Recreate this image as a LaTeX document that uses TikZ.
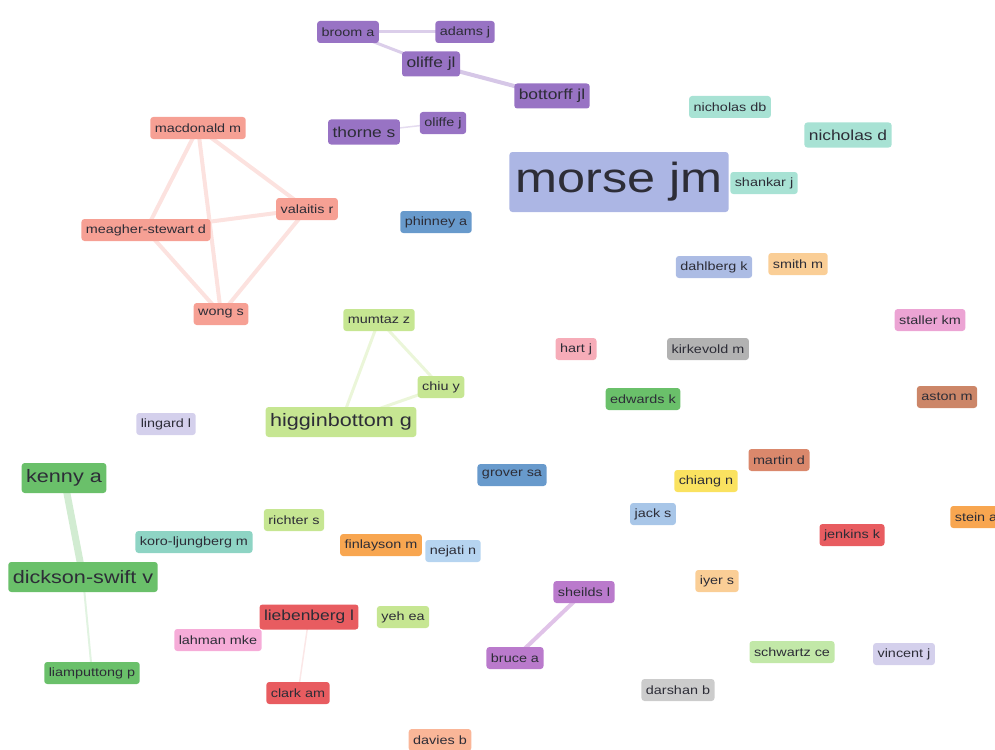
\documentclass[tikz,border=0pt]{standalone}
\usepackage{fontspec}
\setmainfont{Liberation Sans}[FakeStretch=1.2]
\usetikzlibrary{backgrounds}

% cluster colours
\definecolor{txt}{RGB}{45,45,55}
\definecolor{cpurple}{RGB}{152,115,196}
\definecolor{cmagenta}{RGB}{186,122,204}
\definecolor{csalmon}{RGB}{246,160,148}
\definecolor{cblue}{RGB}{104,154,204}
\definecolor{cmorse}{RGB}{172,182,228}
\definecolor{cteal}{RGB}{168,226,212}
\definecolor{cteald}{RGB}{142,212,196}
\definecolor{cdahl}{RGB}{172,188,228}
\definecolor{corangel}{RGB}{250,206,150}
\definecolor{cstaller}{RGB}{236,164,212}
\definecolor{chart}{RGB}{246,172,184}
\definecolor{cgray}{RGB}{178,178,178}
\definecolor{cgrayl}{RGB}{204,204,204}
\definecolor{cgreen}{RGB}{106,192,106}
\definecolor{cbrown}{RGB}{204,134,104}
\definecolor{cmartin}{RGB}{218,136,108}
\definecolor{cyellow}{RGB}{250,226,96}
\definecolor{cblueL}{RGB}{168,198,232}
\definecolor{cred}{RGB}{232,92,96}
\definecolor{corange}{RGB}{248,166,80}
\definecolor{clime}{RGB}{198,230,146}
\definecolor{climel}{RGB}{194,232,168}
\definecolor{clav}{RGB}{212,208,236}
\definecolor{cpeach}{RGB}{250,182,152}
\definecolor{cpink}{RGB}{246,172,216}
\definecolor{cnejati}{RGB}{182,212,240}

\begin{document}
\begin{tikzpicture}[x=1pt,y=-1pt,
    tag/.style={rounded corners=3pt, inner xsep=4.5pt, inner ysep=0pt, text=txt,
      font=\fontsize{12}{14}\selectfont, minimum height=22pt},
    tagm/.style={tag, font=\fontsize{14.5}{17}\selectfont, minimum height=25pt},
    tagl/.style={tag, font=\fontsize{18}{21}\selectfont, minimum height=30pt},
    tagxl/.style={tag, font=\fontsize{42}{48}\selectfont, minimum height=60pt, inner xsep=6pt},
    link/.style={line cap=round}]
\useasboundingbox (0,0) rectangle (995,749);
\clip (0,0) rectangle (995,749);

% purple cluster
\node[tag, fill=cpurple] (broom) at (348,32) {broom a};
\node[tag, fill=cpurple] (adams) at (465,32) {adams j};
\node[tagm, fill=cpurple] (oliffejl) at (431,64) {oliffe jl};
\node[tagm, fill=cpurple] (bottorff) at (552,96) {bottorff jl};
\node[tagm, fill=cpurple] (thorne) at (364,132) {thorne s};
\node[tag, fill=cpurple] (oliffej) at (443,123) {oliffe j};

% salmon cluster
\node[tag, fill=csalmon] (macdonald) at (198,128) {macdonald m};
\node[tag, fill=csalmon] (valaitis) at (307,209) {valaitis r};
\node[tag, fill=csalmon] (meagher) at (146,230) {meagher-stewart d};
\node[tag, fill=csalmon] (wong) at (221,314) {wong s};

% top right
\node[tag, fill=cblue] (phinney) at (436,222) {phinney a};
\node[tagxl, fill=cmorse] (morse) at (619,182) {morse jm};
\node[tag, fill=cteal] (nicholasdb) at (730,107) {nicholas db};
\node[tagm, fill=cteal] (nicholasd) at (848,135) {nicholas d};
\node[tag, fill=cteal] (shankar) at (764,183) {shankar j};
\node[tag, fill=cdahl] (dahlberg) at (714,267) {dahlberg k};
\node[tag, fill=corangel] (smith) at (798,264) {smith m};
\node[tag, fill=cstaller] (staller) at (930,320) {staller km};
\node[tag, fill=chart] (hart) at (576,349) {hart j};
\node[tag, fill=cgray] (kirkevold) at (708,349) {kirkevold m};
\node[tag, fill=cgreen] (edwards) at (643,399) {edwards k};
\node[tag, fill=cbrown] (aston) at (947,397) {aston m};

% middle
\node[tag, fill=clime] (mumtaz) at (379,320) {mumtaz z};
\node[tag, fill=clime] (chiu) at (441,387) {chiu y};
\node[tagl, fill=clime] (higginbottom) at (341,422) {higginbottom g};
\node[tag, fill=clav] (lingard) at (166,424) {lingard l};
\node[tag, fill=cblue] (grover) at (512,475) {grover sa};
\node[tag, fill=cmartin] (martin) at (779,460) {martin d};
\node[tag, fill=cyellow] (chiang) at (706,481) {chiang n};
\node[tag, fill=cblueL] (jack) at (653,514) {jack s};
\node[tag, fill=cred] (jenkins) at (852,535) {jenkins k};
\node[tag, fill=corange] (stein) at (976,517) {stein a};

% green cluster
\node[tagl, fill=cgreen] (kenny) at (64,478) {kenny a};
\node[tagl, fill=cgreen] (dickson) at (83,577) {dickson-swift v};
\node[tag, fill=cgreen] (liamputtong) at (92,673) {liamputtong p};

% bottom
\node[tag, fill=cteald] (koro) at (194,542) {koro-ljungberg m};
\node[tag, fill=clime] (richter) at (294,520) {richter s};
\node[tag, fill=corange] (finlayson) at (381,545) {finlayson m};
\node[tag, fill=cnejati] (nejati) at (453,551) {nejati n};
\node[tagm, fill=cred] (liebenberg) at (309,617) {liebenberg l};
\node[tag, fill=clime] (yeh) at (403,617) {yeh ea};
\node[tag, fill=cpink] (lahman) at (218,640) {lahman mke};
\node[tag, fill=cred] (clark) at (298,693) {clark am};
\node[tag, fill=cpeach] (davies) at (440,740) {davies b};
\node[tag, fill=corangel] (iyer) at (717,581) {iyer s};
\node[tag, fill=cmagenta] (sheilds) at (584,592) {sheilds l};
\node[tag, fill=cmagenta] (bruce) at (515,658) {bruce a};
\node[tag, fill=climel] (schwartz) at (792,652) {schwartz ce};
\node[tag, fill=clav] (vincent) at (904,654) {vincent j};
\node[tag, fill=cgrayl] (darshan) at (678,690) {darshan b};

% links
\begin{scope}[on background layer]
  \draw[link, cpurple!35, line width=3pt] (broom.center) -- (adams.center);
  \draw[link, cpurple!35, line width=3pt] (broom.center) -- (oliffejl.center);
  \draw[link, cpurple!40, line width=4pt] (oliffejl.center) -- (bottorff.center);
  \draw[link, cpurple!25, line width=1.5pt] (thorne.center) -- (oliffej.center);
  \foreach \a/\b in {macdonald/valaitis, macdonald/meagher, macdonald/wong,
                     meagher/valaitis, meagher/wong, valaitis/wong}
    \draw[link, csalmon!30, line width=4pt] (\a.center) -- (\b.center);
  \foreach \a/\b in {mumtaz/higginbottom, mumtaz/chiu, chiu/higginbottom}
    \draw[link, clime!35, line width=3pt] (\a.center) -- (\b.center);
  \draw[link, cgreen!30, line width=7pt] (kenny.center) -- (dickson.center);
  \draw[link, cgreen!20, line width=2pt] (dickson.center) -- (liamputtong.center);
  \draw[link, cred!15, line width=1.5pt] (liebenberg.center) -- (clark.center);
  \draw[link, cmagenta!45, line width=4pt] (sheilds.center) -- (bruce.center);
\end{scope}
\end{tikzpicture}
\end{document}
